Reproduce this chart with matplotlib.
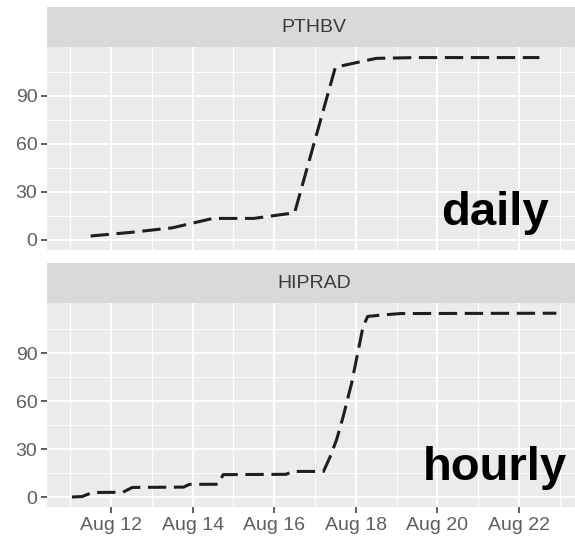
import matplotlib
matplotlib.use("Agg")
import matplotlib.pyplot as plt
import matplotlib.dates as mdates
import matplotlib.transforms as mtransforms
import pandas as pd

# Cumulative series per product (times in August, values in mm)
daily_times = ["2021-08-11 12:00", "2021-08-12 12:00", "2021-08-13 12:00",
               "2021-08-14 12:00", "2021-08-15 12:00", "2021-08-16 12:00",
               "2021-08-17 12:00", "2021-08-18 12:00", "2021-08-19 12:00",
               "2021-08-20 12:00", "2021-08-21 12:00", "2021-08-22 12:00"]
daily_values = [2.5, 4.8, 7.6, 13.5, 13.5, 17.0, 108.0, 113.5, 114.0, 114.0, 114.0, 114.0]

hourly_times = ["2021-08-11 01:00", "2021-08-11 07:00", "2021-08-11 13:00",
                "2021-08-12 07:00", "2021-08-12 12:30", "2021-08-13 18:45",
                "2021-08-13 22:00", "2021-08-14 15:00", "2021-08-14 18:00",
                "2021-08-16 07:00", "2021-08-16 11:00", "2021-08-17 05:00",
                "2021-08-17 09:00", "2021-08-17 12:45", "2021-08-17 16:30",
                "2021-08-17 21:30", "2021-08-18 01:30", "2021-08-18 04:15",
                "2021-08-18 07:00", "2021-08-18 14:30", "2021-08-19 02:30",
                "2021-08-22 22:00"]
hourly_values = [0.0, 0.3, 2.8, 3.0, 6.0, 6.2, 7.9, 8.0, 14.0, 14.2, 16.0, 16.0,
                 25.4, 36.0, 50.0, 71.0, 92.0, 106.6, 113.0, 113.8, 114.8, 115.0]

panel_titles = ["PTHBV", "HIPRAD"]
panel_tags = ["daily", "hourly"]
y_ticks = [0, 30, 60, 90]
y_minor = [15, 45, 75, 105]
x_tick_days = ["2021-08-12", "2021-08-14", "2021-08-16", "2021-08-18",
               "2021-08-20", "2021-08-22"]
x_minor_days = ["2021-08-11", "2021-08-13", "2021-08-15", "2021-08-17",
                "2021-08-19", "2021-08-21", "2021-08-23"]

W, H = 575, 536
fig = plt.figure(figsize=(W / 100, H / 100), dpi=100)
fig.patch.set_facecolor("white")

FONT = "Liberation Sans"
TXT = "#5e5e5e"
BG = "#EBEBEB"
STRIP = "#D9D9D9"


def px_axes(x0, y0, x1, y1):
    """Axes from a pixel box measured from the top-left corner."""
    return fig.add_axes([x0 / W, 1 - y1 / H, (x1 - x0) / W, (y1 - y0) / H])


x_left = pd.Timestamp("2021-08-10 10:20")
x_right = pd.Timestamp("2021-08-23 12:30")

series = [(daily_times, daily_values), (hourly_times, hourly_values)]
# pixel layout of the two facets: (strip top, panel top, panel bottom)
rows = [(7, 47, 250), (263, 303, 507)]
y_tops = [120.6, 121.4]
tag_y = [9.5, 10.8]
tag_right = [549, 567]

for i, ((t, v), (s_top, p_top, p_bot)) in enumerate(zip(series, rows)):
    ax = px_axes(47, p_top, 581, p_bot)
    ax.set_facecolor(BG)
    for sp in ax.spines.values():
        sp.set_visible(False)
    ax.set_xlim(x_left, x_right)
    ax.set_ylim(-6.25, y_tops[i])

    ax.set_yticks(y_ticks)
    ax.set_yticks(y_minor, minor=True)
    ax.set_xticks(pd.to_datetime(x_tick_days))
    ax.set_xticks(pd.to_datetime(x_minor_days), minor=True)
    ax.grid(which="major", color="white", linewidth=1.4)
    ax.grid(which="minor", color="white", linewidth=0.7)
    ax.set_axisbelow(True)

    ax.tick_params(axis="y", which="major", length=4, width=1.1, color="#333333",
                   labelsize=14, labelcolor=TXT, pad=3)
    ax.tick_params(axis="y", which="minor", length=0)
    ax.tick_params(axis="x", which="minor", length=0)
    for lab in ax.get_yticklabels():
        lab.set_fontfamily(FONT)

    if i == 1:
        ax.xaxis.set_major_formatter(mdates.DateFormatter("Aug %d"))
        ax.tick_params(axis="x", which="major", length=4, width=1.1,
                       color="#333333", labelsize=14, labelcolor=TXT, pad=3)
        for lab in ax.get_xticklabels():
            lab.set_fontfamily(FONT)
    else:
        ax.tick_params(axis="x", which="major", length=0, labelbottom=False)

    ax.plot(pd.to_datetime(t), v, color="#1e1e1e", linewidth=2.2,
            linestyle=(0, (6, 2.5)), dash_capstyle="butt")

    # product tag: x in figure pixels, baseline at a data height
    tag_tr = mtransforms.blended_transform_factory(fig.transFigure, ax.transData)
    ax.text(tag_right[i] / W, tag_y[i], panel_tags[i], transform=tag_tr,
            fontsize=34, fontweight="bold", fontfamily=FONT, color="black",
            ha="right", va="baseline")

    sax = px_axes(47, s_top, 581, p_top)
    sax.set_facecolor(STRIP)
    sax.set_xticks([])
    sax.set_yticks([])
    for sp in sax.spines.values():
        sp.set_visible(False)
    sax.text(0.5, 0.5, panel_titles[i], transform=sax.transAxes, ha="center",
             va="center", fontsize=14, fontfamily=FONT, color="#3a3a3a")

fig.savefig("out.png", dpi=100, facecolor="white")
